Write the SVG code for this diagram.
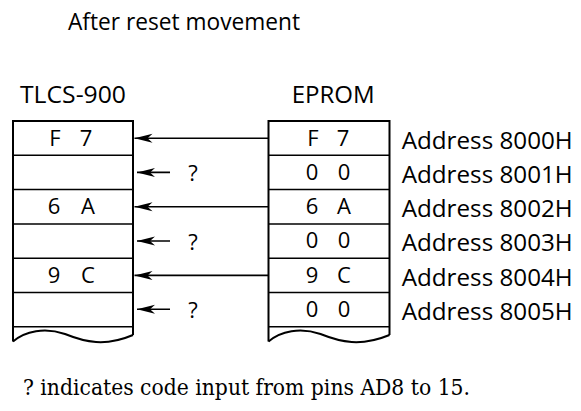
<svg xmlns="http://www.w3.org/2000/svg" width="581" height="411" viewBox="0 0 581 411">
<defs>
<style>
.t{font-family:"Open Sans","Noto Sans",sans-serif;font-size:24px;fill:#000}
.c{font-family:"Open Sans","Noto Sans",sans-serif;font-size:22px;fill:#000;text-anchor:middle}
.s{font-family:"DejaVu Serif","Liberation Serif",serif;font-size:21.5px;fill:#000}
.box{fill:none;stroke:#000;stroke-width:2}
.row{stroke:#000;stroke-width:1.5}
.arr{stroke:#000;stroke-width:1.6;fill:none;marker-end:url(#ah)}
</style>
<marker id="ah" viewBox="-19 -5 20 10" refX="0" refY="0" markerWidth="20" markerHeight="10" markerUnits="userSpaceOnUse" orient="auto">
<path d="M0,0 L-18,-4.5 L-13,0 L-18,4.5 Z" fill="#000"/>
</marker>
</defs>
<rect width="581" height="411" fill="#fff"/>
<text class="t" x="68" y="30" font-size="23.5" textLength="232" lengthAdjust="spacingAndGlyphs">After reset movement</text>
<text class="t" x="20" y="103.3" textLength="106" lengthAdjust="spacingAndGlyphs">TLCS-900</text>
<text class="t" x="291.7" y="103.3" textLength="83" lengthAdjust="spacingAndGlyphs">EPROM</text>

<g id="tlcs900">
<path class="box" d="M13,341.5 L13,121 L133,121 L133,335"/>
<path class="box" d="M13,341.5 C25,331 45,327 65,334 C85,342 105,347 133,335"/>
<g class="row">
<line x1="13" y1="155.3" x2="133" y2="155.3"/>
<line x1="13" y1="189.6" x2="133" y2="189.6"/>
<line x1="13" y1="223.9" x2="133" y2="223.9"/>
<line x1="13" y1="258.2" x2="133" y2="258.2"/>
<line x1="13" y1="292.5" x2="133" y2="292.5"/>
<line x1="13" y1="326.8" x2="133" y2="326.8"/>
</g>
<text class="c" x="55" y="145.5">F</text><text class="c" x="86" y="145.5">7</text>
<text class="c" x="54" y="214">6</text><text class="c" x="88" y="214">A</text>
<text class="c" x="54" y="282.6">9</text><text class="c" x="88" y="282.6">C</text>
</g>

<g id="eprom">
<path class="box" d="M268.5,341.5 L268.5,121 L389.5,121 L389.5,335"/>
<path class="box" d="M268.5,341.5 C280.5,331 300.5,327 320.5,334 C340.5,342 360.5,347 389.5,335"/>
<g class="row">
<line x1="268.5" y1="155.3" x2="389.5" y2="155.3"/>
<line x1="268.5" y1="189.6" x2="389.5" y2="189.6"/>
<line x1="268.5" y1="223.9" x2="389.5" y2="223.9"/>
<line x1="268.5" y1="258.2" x2="389.5" y2="258.2"/>
<line x1="268.5" y1="292.5" x2="389.5" y2="292.5"/>
<line x1="268.5" y1="326.8" x2="389.5" y2="326.8"/>
</g>
<text class="c" x="313" y="145.5">F</text><text class="c" x="343" y="145.5">7</text>
<text class="c" x="312" y="179.8">0</text><text class="c" x="344" y="179.8">0</text>
<text class="c" x="312" y="214">6</text><text class="c" x="344" y="214">A</text>
<text class="c" x="312" y="248.3">0</text><text class="c" x="344" y="248.3">0</text>
<text class="c" x="312" y="282.6">9</text><text class="c" x="344" y="282.6">C</text>
<text class="c" x="312" y="316.9">0</text><text class="c" x="344" y="316.9">0</text>
</g>

<g id="addresses">
<text class="t" x="401.7" y="148.5" textLength="171" lengthAdjust="spacingAndGlyphs">Address 8000H</text>
<text class="t" x="401.7" y="182.8" textLength="171" lengthAdjust="spacingAndGlyphs">Address 8001H</text>
<text class="t" x="401.7" y="217.1" textLength="171" lengthAdjust="spacingAndGlyphs">Address 8002H</text>
<text class="t" x="401.7" y="251.4" textLength="171" lengthAdjust="spacingAndGlyphs">Address 8003H</text>
<text class="t" x="401.7" y="285.7" textLength="171" lengthAdjust="spacingAndGlyphs">Address 8004H</text>
<text class="t" x="401.7" y="320" textLength="171" lengthAdjust="spacingAndGlyphs">Address 8005H</text>
</g>

<g id="connectors">
<line class="arr" x1="268.5" y1="138.2" x2="134.5" y2="138.2"/>
<line class="arr" x1="268.5" y1="206.8" x2="134.5" y2="206.8"/>
<line class="arr" x1="268.5" y1="275.4" x2="134.5" y2="275.4"/>
<line class="arr" x1="170" y1="172.4" x2="137" y2="172.4"/>
<line class="arr" x1="170" y1="241" x2="137" y2="241"/>
<line class="arr" x1="170" y1="309.3" x2="137" y2="309.3"/>
<text class="c" x="193" y="181">?</text>
<text class="c" x="193" y="249.6">?</text>
<text class="c" x="193" y="317.9">?</text>
</g>

<text class="s" x="23" y="395" textLength="447" lengthAdjust="spacingAndGlyphs">? indicates code input from pins AD8 to 15.</text>
</svg>
